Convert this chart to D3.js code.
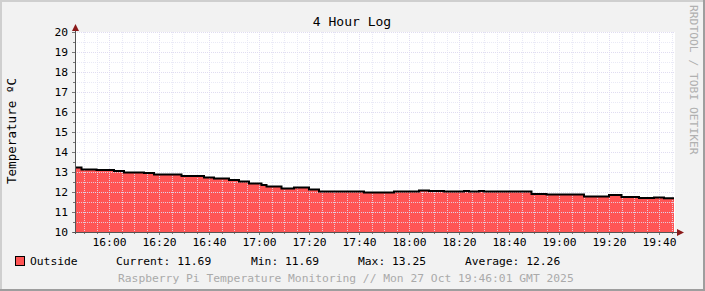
<!DOCTYPE html>
<html><head><meta charset="utf-8">
<script src="https://cdn.jsdelivr.net/npm/d3@7"></script>
<style>
html,body{margin:0;padding:0;background:#f2f2f2;}
svg text{font-family:"DejaVu Sans Mono",monospace;}
</style></head>
<body><svg id="c" width="705" height="291"></svg>
<script>
// ---- data ----
const times = ["15:46","15:49","15:55","16:02","16:06","16:14","16:18","16:29","16:38","16:42","16:48","16:52","16:56","17:01","17:03","17:09","17:14","17:20","17:24","17:32","17:42","17:54","18:04","18:08","18:14","18:22","18:24","18:28","18:30","18:49","18:55","19:10","19:20","19:25","19:32","19:38","19:42","19:46"];
const values = [13.22,13.13,13.10,13.05,12.98,12.95,12.88,12.80,12.73,12.68,12.60,12.53,12.43,12.35,12.27,12.18,12.22,12.13,12.03,12.02,11.98,12.02,12.07,12.05,12.02,12.05,12.02,12.05,12.02,11.90,11.87,11.77,11.85,11.75,11.70,11.72,11.69,11.69];
const xTickLabels = ["16:00","16:20","16:40","17:00","17:20","17:40","18:00","18:20","18:40","19:00","19:20","19:40"];
const yTickLabels = [10,11,12,13,14,15,16,17,18,19,20];
const seriesName = "Outside";
const stats = {current:"11.69", min:"11.69", max:"13.25", avg:"12.26"};
const title = "4 Hour Log";
const yTitle = "Temperature ºC";
const footer = "Raspberry Pi Temperature Monitoring // Mon 27 Oct 19:46:01 GMT 2025";
const watermark = "RRDTOOL / TOBI OETIKER";

// ---- drawing ----
const svg = d3.select("#c");
const W=705,H=291;
const day = "2025-10-27 ";
const parse = d3.timeParse("%Y-%m-%d %H:%M:%S");
const pt = s => parse(day + (s.length===5 ? s+":00" : s));
const data = times.map((t,i)=>({t:pt(t), v:values[i]}));

const L=75,R=675,T=32,B=232;
const x = d3.scaleTime().domain([pt("15:46:24"), pt("19:46:24")]).range([L,R]);
const y = d3.scaleLinear().domain([10,20]).range([B,T]);

// background + border
svg.append("rect").attr("x",0).attr("y",0).attr("width",W).attr("height",H).attr("fill","#f2f2f2");
svg.append("path").attr("d",`M1,${H} V1 H${W}`).attr("stroke","#cfcfcf").attr("stroke-width",2).attr("fill","none");
svg.append("path").attr("d",`M0,${H-1} H${W-1} V0`).attr("stroke","#9e9e9e").attr("stroke-width",2).attr("fill","none");

// canvas
svg.append("rect").attr("x",L).attr("y",T).attr("width",R-L).attr("height",B-T).attr("fill","#ffffff");

svg.append("defs").append("clipPath").attr("id","clip")
  .append("rect").attr("x",L).attr("y",T-2).attr("width",R-L).attr("height",B-T+2);

const area = d3.area().curve(d3.curveStepAfter).x(d=>x(d.t)).y0(y(10)).y1(d=>y(d.v));
svg.append("path").datum(data).attr("clip-path","url(#clip)").attr("d",area).attr("fill","#ff5555");

// grid
const minorCol = "rgba(228,228,244,0.8)", majorCol = "rgba(222,218,240,0.95)";
const g = svg.append("g");
const minorX = d3.timeMinute.every(5).range(x.domain()[0], x.domain()[1]);
minorX.forEach(t=>{
  const major = t.getMinutes()%20===0;
  const px = Math.round(x(t))+0.5;
  g.append("line").attr("x1",px).attr("x2",px).attr("y1",T).attr("y2",B)
   .attr("stroke", major?majorCol:minorCol)
   .attr("stroke-dasharray","1,1");
  g.append("line").attr("x1",px).attr("x2",px).attr("y1",B).attr("y2",B+(major?3:2))
   .attr("stroke","#777");
});
d3.range(10,20.01,0.5).forEach(v=>{
  const major = Math.abs(v-Math.round(v))<1e-6;
  const py = Math.round(y(v))+0.5;
  if(v>10) g.append("line").attr("x1",L).attr("x2",R).attr("y1",py).attr("y2",py)
   .attr("stroke", major?majorCol:minorCol)
   .attr("stroke-dasharray","1,1");
  g.append("line").attr("x1",L-(major?3:2)).attr("x2",L).attr("y1",py).attr("y2",py).attr("stroke","#777");
});

// line
const line = d3.line().curve(d3.curveStepAfter).x(d=>x(d.t)).y(d=>y(d.v));
svg.append("path").datum(data).attr("clip-path","url(#clip)").attr("d",line)
  .attr("fill","none").attr("stroke","#000").attr("stroke-width",2);

// axes
svg.append("line").attr("x1",L+0.5).attr("x2",L+0.5).attr("y1",B+2).attr("y2",T-3).attr("stroke","#555");
svg.append("line").attr("x1",L-2).attr("x2",R+4).attr("y1",B+0.5).attr("y2",B+0.5).attr("stroke","#555");
svg.append("path").attr("d",`M${L-3},${T-1} L${L+0.5},${T-8} L${L+4},${T-1} Z`).attr("fill","#8b1a1a");
svg.append("path").attr("d",`M${R+2},${B-3} L${R+9},${B+0.5} L${R+2},${B+4} Z`).attr("fill","#8b1a1a");

// tick labels
const yAxis = d3.axisLeft(y).tickValues(yTickLabels).tickSize(0).tickPadding(7).tickFormat(d3.format("d"));
const ya = svg.append("g").attr("transform",`translate(${L},0)`).call(yAxis);
ya.select(".domain").remove();
ya.selectAll("text").attr("font-family","DejaVu Sans Mono").attr("font-size","11.3px").attr("fill","#000");

const xTicks = xTickLabels.map(s=>pt(s));
const xAxis = d3.axisBottom(x).tickValues(xTicks).tickSize(0).tickPadding(6).tickFormat(d3.timeFormat("%H:%M"));
const xa = svg.append("g").attr("transform",`translate(0,${B})`).call(xAxis);
xa.select(".domain").remove();
xa.selectAll("text").attr("font-family","DejaVu Sans Mono").attr("font-size","11.3px").attr("fill","#000");

// title
svg.append("text").attr("x",352).attr("y",26).attr("text-anchor","middle")
  .attr("font-size","13px").attr("fill","#000").text(title);
// y title
svg.append("text").attr("transform","translate(16,131) rotate(-90)").attr("text-anchor","middle")
  .attr("font-size","12.6px").attr("fill","#000").text(yTitle);
// watermark
svg.append("text").attr("transform","translate(690,5) rotate(90)").attr("text-anchor","start")
  .attr("font-size","11.3px").attr("fill","#b0b0b0").text(watermark);

// legend
svg.append("rect").attr("x",15.5).attr("y",256.5).attr("width",9).attr("height",9)
  .attr("fill","#ff5555").attr("stroke","#000").attr("stroke-width",1);
const lg = [[30,seriesName],[116,"Current: "+stats.current],[251,"Min: "+stats.min],[358,"Max: "+stats.max],[465,"Average: "+stats.avg]];
lg.forEach(d=>svg.append("text").attr("x",d[0]).attr("y",265).attr("font-size","11.3px").attr("fill","#000").text(d[1]));
svg.append("text").attr("x",118).attr("y",282).attr("font-size","11.3px").attr("fill","#aaaaaa").text(footer);
</script></body></html>
